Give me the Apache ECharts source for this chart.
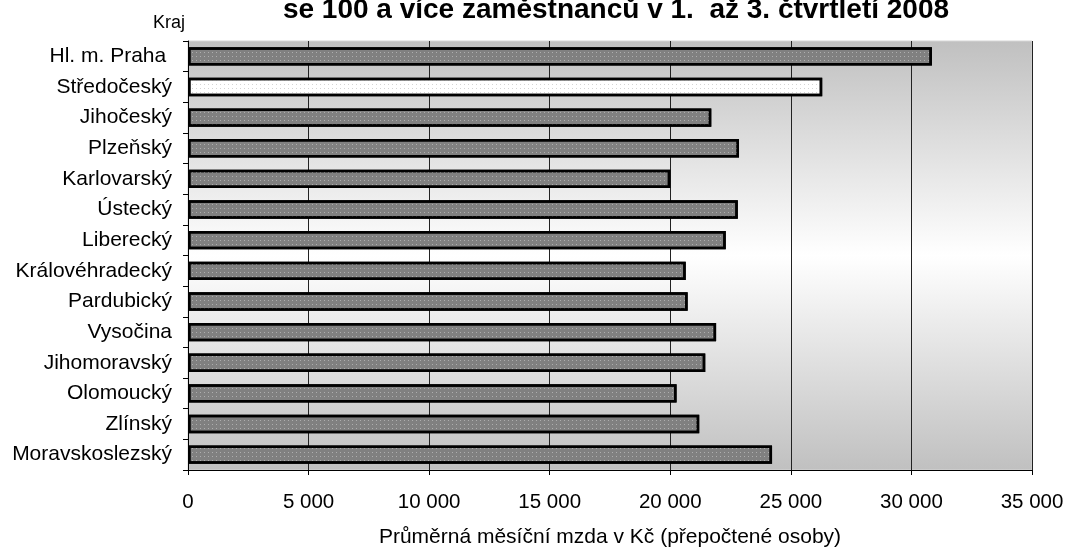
<!DOCTYPE html>
<html>
<head>
<meta charset="utf-8">
<script src="https://cdn.jsdelivr.net/npm/echarts@6/dist/echarts.min.js"></script>
<style>html,body{margin:0;padding:0;background:#fff;}#c{width:1068px;height:549px;}</style>
</head>
<body>
<div id="c"></div>
<script>
const categories = ["Hl. m. Praha ", "Středočeský", "Jihočeský", "Plzeňský", "Karlovarský", "Ústecký", "Liberecký", "Královéhradecký", "Pardubický", "Vysočina", "Jihomoravský", "Olomoucký", "Zlínský", "Moravskoslezský"];
const wages = [30850, 26300, 21700, 22850, 20000, 22800, 22300, 20640, 20720, 21900, 21450, 20260, 21200, 24220];
const highlighted = "Středočeský";
const titleText = "se 100 a více zaměstnanců v 1.  až 3. čtvrtletí 2008";
const yAxisTitle = "Kraj";
const xAxisTitle = "Průměrná měsíční mzda v Kč (přepočtené osoby)";

const FONT = '"Liberation Sans", Arial, sans-serif';
const darkDecal = {symbol: 'rect', symbolSize: 1, dashArrayX: [[1, 3]], dashArrayY: [1, 3], color: 'rgba(205,205,205,0.6)'};
const lightDecal = {symbol: 'rect', symbolSize: 1, dashArrayX: [[1, 3]], dashArrayY: [1, 3], color: 'rgba(170,170,170,0.5)'};

const chart = echarts.init(document.getElementById('c'), null, {renderer: 'canvas'});
chart.setOption({
  animation: false,
  textStyle: {fontFamily: FONT},
  title: [
    {text: titleText, left: 611, top: -9, textAlign: 'center',
     textStyle: {fontFamily: FONT, fontSize: 28, fontWeight: 'bold', color: '#000'}},
    {text: yAxisTitle, left: 148, top: 9,
     textStyle: {fontFamily: FONT, fontSize: 18, fontWeight: 'normal', color: '#000'}}
  ],
  grid: {left: 188, right: 36, top: 41, bottom: 79, outerBoundsMode: 'none', containLabel: false,
    show: true, borderColor: '#d6d6d6', borderWidth: 1,
    backgroundColor: new echarts.graphic.LinearGradient(0, 0, 0, 1, [
      {offset: 0, color: '#c0c0c0'}, {offset: 0.5, color: '#ffffff'}, {offset: 1, color: '#c0c0c0'}
    ])},
  xAxis: {
    type: 'value', min: 0, max: 35000, interval: 5000,
    name: xAxisTitle, nameLocation: 'middle', nameGap: 57,
    nameTextStyle: {fontFamily: FONT, fontSize: 21, color: '#000'},
    axisLine: {show: true, lineStyle: {color: '#000', width: 1}},
    axisTick: {show: true, length: 5, lineStyle: {color: '#000'}},
    axisLabel: {fontFamily: FONT, fontSize: 20.5, color: '#000', margin: 22,
      formatter: v => String(v).replace(/\B(?=(\d{3})+(?!\d))/g, ' ')},
    splitLine: {show: true, lineStyle: {color: '#222', width: 1}}
  },
  yAxis: {
    type: 'category', data: categories, inverse: true,
    axisLine: {show: true, lineStyle: {color: '#000', width: 1}},
    axisTick: {show: true, length: 5, lineStyle: {color: '#000'}},
    axisLabel: {fontFamily: FONT, fontSize: 21, color: '#000', margin: 16},
    splitLine: {show: false}
  },
  series: [{
    type: 'bar',
    barCategoryGap: '40%',
    data: wages.map((v, i) => ({
      value: v,
      itemStyle: categories[i] === highlighted
        ? {color: '#ffffff', borderColor: '#000', borderWidth: 2.5, decal: lightDecal}
        : {color: '#808080', borderColor: '#000', borderWidth: 2.5, decal: darkDecal}
    }))
  }]
});
</script>
</body>
</html>
